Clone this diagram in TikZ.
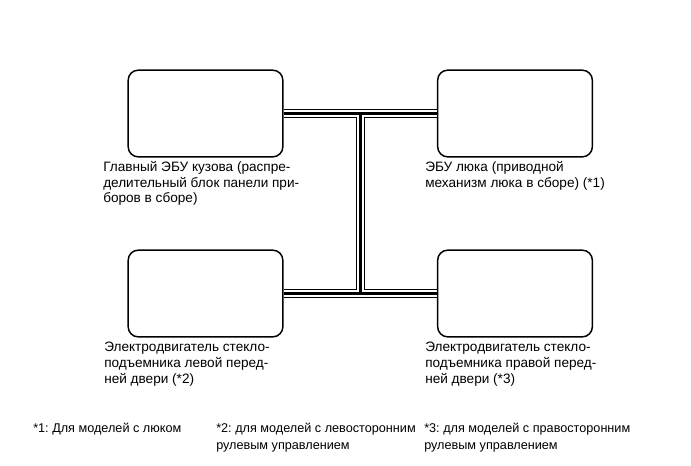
\documentclass[tikz,border=0pt]{standalone}
\usepackage{fontspec}
\setmainfont{Liberation Sans}
\usetikzlibrary{calc}
\begin{document}
\frenchspacing
\begin{tikzpicture}[x=0.75pt,y=-0.75pt,
  box/.style={draw, line width=1.1pt, rounded corners=7.5pt, minimum width=116pt, minimum height=65pt, inner sep=0pt},
  lbl/.style={anchor=north west, inner sep=0pt, align=left, font=\fontsize{10.2}{11.8}\selectfont},
  fnote/.style={anchor=north west, inner sep=0pt, align=left, font=\fontsize{9.5}{12.7}\selectfont},
]
\useasboundingbox (0,0) rectangle (691,465);
\node[box] (a) at (205.5,113.5) {};
\node[box] (b) at (515,113.5) {};
\node[box] (c) at (205.5,293.5) {};
\node[box] (d) at (515,293.5) {};
\coordinate (j1) at ($(a.east)!0.5!(b.west)$);
\coordinate (j2) at ($(c.east)!0.5!(d.west)$);
\foreach \w/\c in {6.9pt/black, 5.1pt/white, 2.3pt/black}{
  \draw[line width=\w, draw=\c] (a.east) -- (b.west) (c.east) -- (d.west) (j1) -- (j2);
}
\node[lbl] (la) at (103,161) {Главный ЭБУ кузова (распре-\\делительный блок панели при-\\боров в сборе)};
\node[lbl] (lb) at (425,161) {ЭБУ люка (приводной\\механизм люка в сборе) (*1)};
\node[lbl] (lc) at (104,342) {Электродвигатель стекло-\\подъемника левой перед-\\ней двери (*2)};
\node[lbl] (ld) at (425,342) {Электродвигатель стекло-\\подъемника правой перед-\\ней двери (*3)};
\node[fnote] (f1) at (33,423) {*1: Для моделей с люком};
\node[fnote] (f2) at (216,423) {*2: для моделей с левосторонним\\рулевым управлением};
\node[fnote] (f3) at (424,423) {*3: для моделей с правосторонним\\рулевым управлением};
\end{tikzpicture}
\end{document}
